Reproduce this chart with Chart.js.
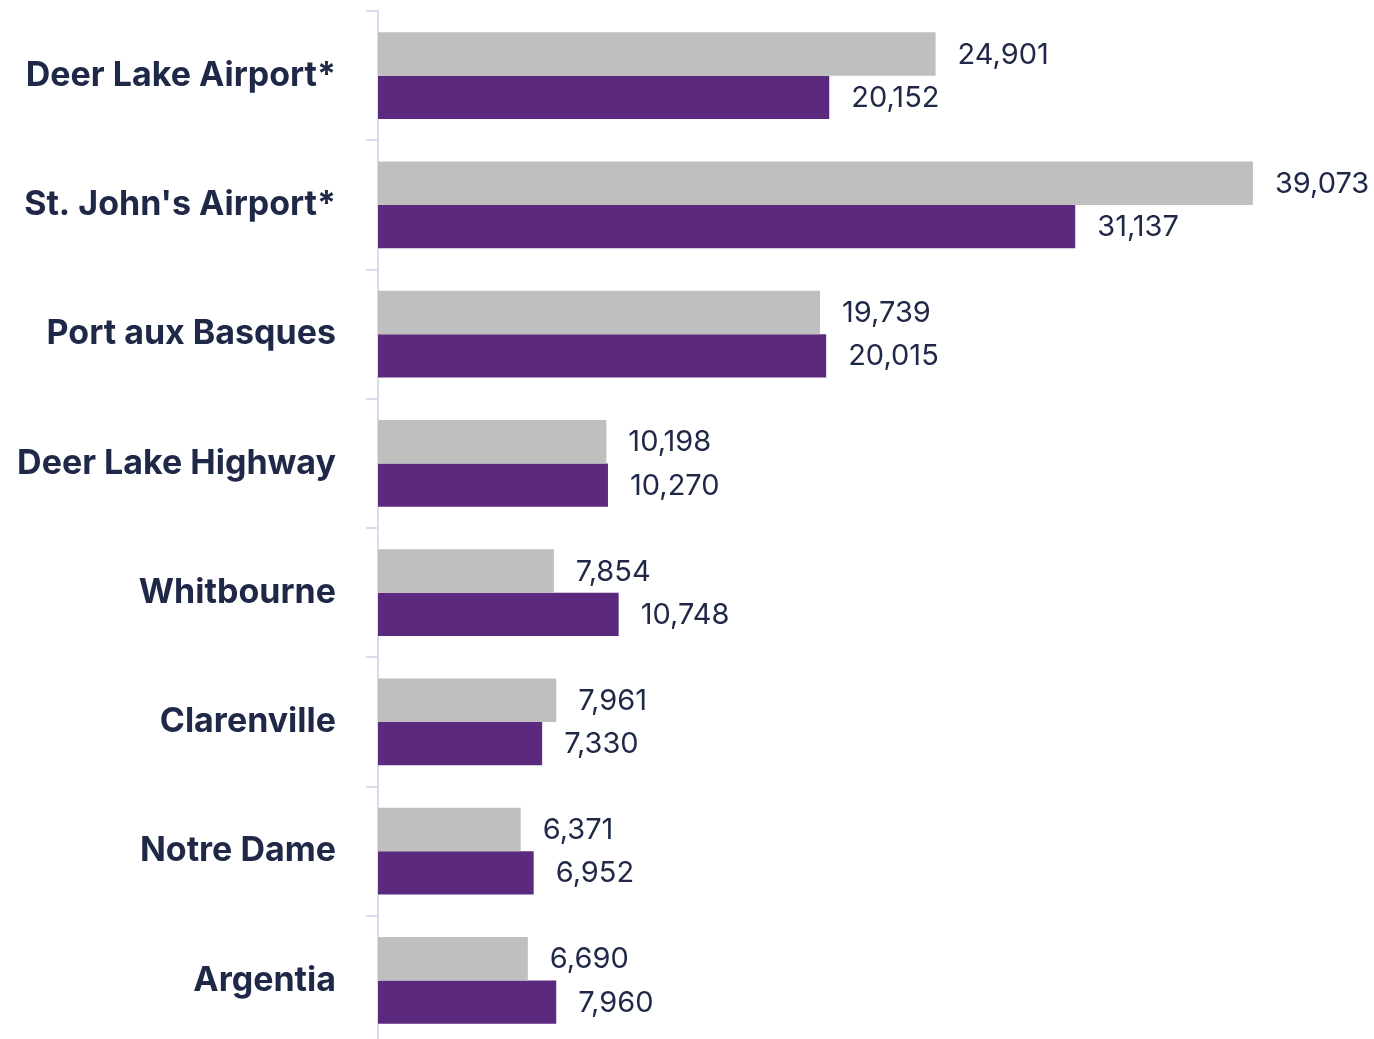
<!DOCTYPE html>
<html>
<head>
<meta charset="utf-8">
<script src="https://cdn.jsdelivr.net/npm/chart.js@4"></script>
<style>
  html, body { margin: 0; padding: 0; background: #fff; overflow: hidden; }
  #wrap { width: 1374px; height: 1045px; }
</style>
</head>
<body>
<div id="wrap"><canvas id="c"></canvas></div>
<script>
const categories = ['Deer Lake Airport*', "St. John's Airport*", 'Port aux Basques', 'Deer Lake Highway', 'Whitbourne', 'Clarenville', 'Notre Dame', 'Argentia'];
const greyValues = [24901, 39073, 19739, 10198, 7854, 7961, 6371, 6690];
const purpleValues = [20152, 31137, 20015, 10270, 10748, 7330, 6952, 7960];

const textColor = '#1f2847';

// draw the number at the end of each bar
const barValues = {
  id: 'barValues',
  afterDatasetsDraw(chart) {
    const ctx = chart.ctx;
    ctx.save();
    ctx.font = '29px Inter';
    ctx.fillStyle = textColor;
    ctx.textBaseline = 'middle';
    ctx.textAlign = 'left';
    chart.data.datasets.forEach((ds, i) => {
      chart.getDatasetMeta(i).data.forEach((bar, j) => {
        ctx.fillText(ds.data[j].toLocaleString('en-US'), bar.x + 22, bar.y + 1);
      });
    });
    ctx.restore();
  }
};

new Chart(document.getElementById('c'), {
  type: 'bar',
  data: {
    labels: categories,
    datasets: [
      { label: 'Grey', data: greyValues, backgroundColor: '#bfbfbf', barPercentage: 1.0, categoryPercentage: 0.67 },
      { label: 'Purple', data: purpleValues, backgroundColor: '#5b2a7e', barPercentage: 1.0, categoryPercentage: 0.67 }
    ]
  },
  options: {
    indexAxis: 'y',
    responsive: true,
    maintainAspectRatio: false,
    animation: false,
    layout: { padding: { top: 11, bottom: 0, left: 0, right: 0 } },
    plugins: { legend: { display: false }, tooltip: { enabled: false } },
    scales: {
      x: { display: false, min: 0, max: 44480 },
      y: {
        afterFit(scale) {
          scale.width = 378;
          scale.paddingTop = 0;
          scale.paddingBottom = 0;
        },
        border: { color: '#d9dbee', width: 2 },
        grid: { drawOnChartArea: false, tickLength: 12, color: '#d9dbee', lineWidth: 2 },
        ticks: { color: textColor, font: { family: 'Inter', size: 34, weight: 'bold' }, padding: 30 }
      }
    }
  },
  plugins: [barValues]
});
</script>
</body>
</html>
